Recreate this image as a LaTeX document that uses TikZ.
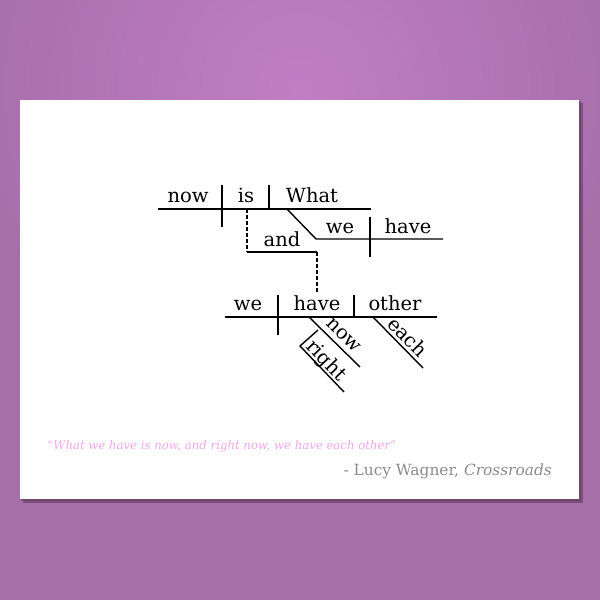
\documentclass[tikz,border=0pt]{standalone}
\usepackage{fontspec}
\setmainfont{DejaVu Serif}
\begin{document}
\begin{tikzpicture}[x=1pt,y=-1pt,
  ln/.style={line width=1.4pt,black},
  dsh/.style={line width=1.1pt,black,dash pattern=on 3.5pt off 2.5pt},
  wd/.style={font=\fontsize{19.5}{19.5}\selectfont,anchor=base,inner sep=0pt},
  sw/.style={font=\fontsize{19.5}{19.5}\selectfont,sloped,anchor=base,inner sep=0pt}]
\definecolor{bgout}{HTML}{A66FAA}
\definecolor{bgin}{HTML}{C27EC4}
\definecolor{quote}{HTML}{F3A6EE}
\definecolor{auth}{HTML}{8C8C8C}
\useasboundingbox (0,0) rectangle (600,600);
\fill[bgout] (0,0) rectangle (600,600);
\begin{scope}
\clip (0,0) rectangle (600,600);
\shade[inner color=bgin,outer color=bgout] (300,90) circle[radius=330];
\end{scope}
% card shadow
\fill[black!55!bgout,opacity=0.5] (23,103) rectangle (583,503);
\fill[black!40!bgout,opacity=0.6] (21,101) rectangle (581,501);
\node[draw=none,fill=white,minimum width=559pt,minimum height=399pt,inner sep=0pt,anchor=north west] (card) at (20,100) {};
% upper clause
\coordinate (mL) at (158,209); \coordinate (mR) at (371,209);
\coordinate (d1t) at (222,185); \coordinate (d1b) at (222,227);
\coordinate (d2t) at (269,185); \coordinate (d2b) at (269,209);
\coordinate (s1) at (287,209); \coordinate (s2) at (316,239); \coordinate (s3) at (443,239);
\coordinate (d3t) at (370,217); \coordinate (d3b) at (370,257);
\coordinate (c1) at (247,209); \coordinate (aL) at (247,252); \coordinate (aR) at (317,252);
\coordinate (c2) at (317,292);
\draw[ln] (mL) -- (mR);
\draw[ln] (d1t) -- (d1b);
\draw[ln] (d2t) -- (d2b);
\draw[ln] (s1) -- (s2) -- (s3);
\draw[ln] (d3t) -- (d3b);
\draw[dsh] (c1) -- (aL);
\draw[ln] (aL) -- (aR);
\draw[dsh] (aR) -- (c2);
\node[wd] (w1) at (188,202) {now};
\node[wd] (w2) at (246,202) {is};
\node[wd] (w3) at (312,202) {What};
\node[wd] (w4) at (340,233) {we};
\node[wd] (w5) at (408,233) {have};
\node[wd] (w6) at (282,246) {and};
% lower clause
\coordinate (lL) at (225,317); \coordinate (lR) at (437,317);
\coordinate (d4t) at (278,295); \coordinate (d4b) at (278,335);
\coordinate (d5t) at (354,295); \coordinate (d5b) at (354,317);
\coordinate (n1) at (309,317); \coordinate (n2) at (360,367);
\coordinate (r0) at (318,330); \coordinate (r1) at (300,346); \coordinate (r2) at (344,392);
\coordinate (e1) at (373,317); \coordinate (e2) at (423,368);
\draw[ln] (lL) -- (lR);
\draw[ln] (d4t) -- (d4b);
\draw[ln] (d5t) -- (d5b);
\node[wd] (w7) at (248,310) {we};
\node[wd] (w8) at (317,310) {have};
\node[wd] (w9) at (395,310) {other};
\draw[ln] (n1) -- node[sw,pos=0.53,yshift=6pt] (w10) {now} (n2);
\draw[ln] (r0) -- (r1) -- node[sw,pos=0.45,yshift=3pt] (w11) {right} (r2);
\draw[ln] (e1) -- node[sw,pos=0.54,yshift=4pt] (w12) {each} (e2);
% quote
\node[anchor=base west,inner sep=0pt,text=quote,font=\fontsize{11.7}{11.7}\selectfont\itshape] (q) at (47,449) {“What we have is now, and right now, we have each other”};
\node[anchor=base east,inner sep=0pt,text=auth,font=\fontsize{15.4}{15.4}\selectfont] (a) at (552,475) {- Lucy Wagner, \textit{Crossroads}};
\end{tikzpicture}
\end{document}
